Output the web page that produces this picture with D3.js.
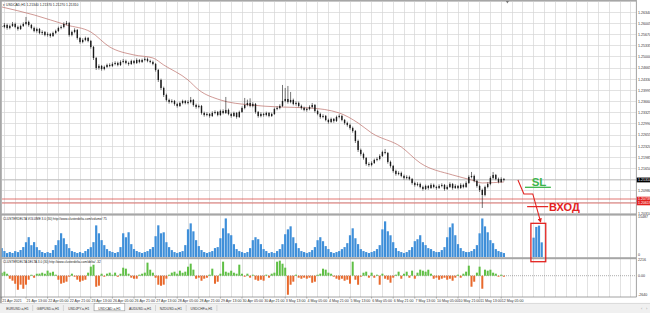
<!DOCTYPE html>
<html><head><meta charset="utf-8">
<script src="https://cdn.jsdelivr.net/npm/d3@7"></script>
<style>html,body{margin:0;padding:0;background:#fff;overflow:hidden}</style>
</head><body><svg id="c" width="650" height="313"></svg>
<script>
// ---------------- DATA ----------------
const symbolTitle = "USDCAD,H1";
const firstOpen = 1.2593;
const closes = [
1.2590,1.2596,1.2587,1.2593,1.2599,1.2590,1.2584,1.2593,1.2599,1.2605,
1.2596,1.2587,1.2578,1.2584,1.2572,1.2575,1.2566,1.2569,1.2563,1.2572,
1.2578,1.2587,1.2590,1.2599,1.2602,1.2566,1.2575,1.2581,1.2557,1.2545,
1.2551,1.2557,1.2548,1.2530,1.2497,1.2467,1.2473,1.2464,1.2470,1.2476,
1.2473,1.2479,1.2482,1.2476,1.2485,1.2488,1.2482,1.2479,1.2488,1.2482,
1.2491,1.2485,1.2491,1.2494,1.2488,1.2485,1.2479,1.2461,1.2431,1.2407,
1.2386,1.2371,1.2365,1.2368,1.2359,1.2353,1.2362,1.2368,1.2362,1.2365,
1.2371,1.2356,1.2350,1.2353,1.2332,1.2326,1.2329,1.2323,1.2332,1.2335,
1.2326,1.2338,1.2332,1.2341,1.2329,1.2323,1.2332,1.2320,1.2335,1.2347,
1.2356,1.2362,1.2353,1.2359,1.2335,1.2323,1.2329,1.2326,1.2332,1.2323,
1.2329,1.2344,1.2347,1.2353,1.2368,1.2374,1.2365,1.2371,1.2359,1.2362,
1.2353,1.2347,1.2341,1.2344,1.2350,1.2356,1.2338,1.2329,1.2320,1.2323,
1.2311,1.2305,1.2314,1.2308,1.2320,1.2323,1.2311,1.2302,1.2296,1.2287,
1.2278,1.2248,1.2221,1.2209,1.2197,1.2179,1.2176,1.2182,1.2191,1.2194,
1.2203,1.2215,1.2212,1.2185,1.2173,1.2158,1.2149,1.2152,1.2143,1.2137,
1.2140,1.2134,1.2122,1.2116,1.2119,1.2110,1.2104,1.2113,1.2107,1.2116,
1.2110,1.2107,1.2113,1.2116,1.2104,1.2110,1.2119,1.2107,1.2113,1.2107,
1.2116,1.2110,1.2122,1.2140,1.2143,1.2128,1.2113,1.2101,1.2086,1.2110,
1.2119,1.2137,1.2146,1.2134,1.2125,1.2134,1.2131];
const highs = [
1.2599,1.2602,1.2600,1.2597,1.2605,1.2603,1.2594,1.2597,1.2604,1.2620,
1.2609,1.2599,1.2591,1.2588,1.2587,1.2580,1.2578,1.2574,1.2572,1.2576,
1.2582,1.2591,1.2595,1.2604,1.2608,1.2605,1.2579,1.2586,1.2584,1.2560,
1.2556,1.2561,1.2560,1.2551,1.2533,1.2500,1.2478,1.2476,1.2474,1.2480,
1.2481,1.2484,1.2487,1.2486,1.2490,1.2494,1.2492,1.2486,1.2492,1.2491,
1.2496,1.2494,1.2495,1.2499,1.2498,1.2492,1.2489,1.2482,1.2464,1.2435,
1.2411,1.2390,1.2375,1.2373,1.2371,1.2363,1.2366,1.2372,1.2371,1.2370,
1.2380,1.2374,1.2360,1.2357,1.2356,1.2336,1.2334,1.2332,1.2337,1.2340,
1.2338,1.2342,1.2343,1.2380,1.2345,1.2333,1.2336,1.2335,1.2339,1.2352,
1.2377,1.2372,1.2376,1.2364,1.2362,1.2338,1.2334,1.2333,1.2336,1.2335,
1.2333,1.2348,1.2352,1.2358,1.2416,1.2407,1.2413,1.2395,1.2375,1.2367,
1.2366,1.2357,1.2351,1.2348,1.2355,1.2362,1.2359,1.2342,1.2333,1.2328,
1.2326,1.2315,1.2318,1.2317,1.2324,1.2328,1.2326,1.2314,1.2306,1.2300,
1.2291,1.2281,1.2252,1.2225,1.2213,1.2200,1.2184,1.2187,1.2195,1.2199,
1.2208,1.2219,1.2224,1.2215,1.2189,1.2176,1.2162,1.2157,1.2156,1.2147,
1.2145,1.2144,1.2137,1.2126,1.2124,1.2123,1.2114,1.2117,1.2116,1.2121,
1.2120,1.2114,1.2118,1.2121,1.2119,1.2115,1.2124,1.2122,1.2118,1.2116,
1.2121,1.2120,1.2127,1.2145,1.2155,1.2147,1.2131,1.2117,1.2105,1.2114,
1.2124,1.2142,1.2155,1.2149,1.2138,1.2139,1.2137];
const lows = [
1.2584,1.2586,1.2582,1.2583,1.2590,1.2586,1.2579,1.2581,1.2590,1.2595,
1.2591,1.2583,1.2574,1.2573,1.2568,1.2566,1.2562,1.2561,1.2558,1.2560,
1.2569,1.2575,1.2583,1.2586,1.2595,1.2561,1.2562,1.2571,1.2552,1.2540,
1.2541,1.2547,1.2544,1.2525,1.2491,1.2461,1.2462,1.2459,1.2460,1.2467,
1.2469,1.2470,1.2475,1.2472,1.2473,1.2481,1.2478,1.2474,1.2476,1.2478,
1.2479,1.2481,1.2482,1.2487,1.2484,1.2481,1.2475,1.2456,1.2425,1.2401,
1.2380,1.2366,1.2360,1.2361,1.2354,1.2348,1.2350,1.2358,1.2358,1.2358,
1.2361,1.2351,1.2345,1.2346,1.2327,1.2321,1.2322,1.2318,1.2320,1.2328,
1.2322,1.2323,1.2328,1.2329,1.2325,1.2318,1.2320,1.2315,1.2317,1.2332,
1.2343,1.2352,1.2349,1.2349,1.2330,1.2318,1.2319,1.2321,1.2322,1.2319,
1.2320,1.2326,1.2340,1.2343,1.2350,1.2364,1.2360,1.2361,1.2355,1.2354,
1.2349,1.2342,1.2337,1.2336,1.2340,1.2346,1.2333,1.2325,1.2315,1.2316,
1.2307,1.2300,1.2302,1.2303,1.2305,1.2316,1.2307,1.2297,1.2291,1.2282,
1.2273,1.2242,1.2215,1.2204,1.2192,1.2174,1.2171,1.2172,1.2179,1.2187,
1.2190,1.2200,1.2208,1.2180,1.2168,1.2153,1.2144,1.2145,1.2139,1.2132,
1.2133,1.2130,1.2117,1.2111,1.2112,1.2106,1.2099,1.2101,1.2102,1.2104,
1.2106,1.2102,1.2104,1.2109,1.2099,1.2101,1.2107,1.2102,1.2104,1.2103,
1.2104,1.2106,1.2107,1.2119,1.2136,1.2124,1.2108,1.2095,1.2047,1.2082,
1.2106,1.2115,1.2133,1.2130,1.2121,1.2122,1.2127];
// moving average (read at sample bars)
const maIndex = [0,12,24,33,40,49,56,60,69,73,81,92,103,114,125,132,137,148,155,167,174,178,186];
const maValue = [1.2650,1.2626,1.2596,1.2575,1.2530,1.2506,1.2497,1.2476,1.2431,1.2401,1.2371,1.2356,1.2350,1.2347,1.2332,1.2302,1.2272,1.2230,1.2182,1.2146,1.2131,1.2122,1.2125];
const volumes = [
3402,2281,1496,1902,1534,2247,1873,2671,3795,5648,
7583,4522,5691,3764,2638,1911,1502,1879,1527,2655,
4553,6417,9082,7166,4927,3388,2262,1894,1518,1885,
1507,2276,3031,3768,5682,12094,9061,6442,4531,3014,
2259,1903,1521,1877,3791,9075,7548,9463,4918,3027,
2284,1869,1512,1896,2271,3019,3802,7952,12117,9068,
9447,5662,3776,2641,1884,1509,1892,2263,4547,10592,
12861,9822,6437,4172,2656,1897,1516,1881,2274,3409,
3786,7173,10968,14752,9058,8331,4903,3026,2265,1884,
1513,1897,3394,6441,7565,6812,4917,3018,2277,1504,
1886,1519,2268,3031,4906,8702,10574,11733,7548,5281,
3397,2262,1891,1506,1879,2652,3788,6425,7571,6044,
4168,3027,1884,1511,1893,2266,3014,3791,5296,8316,
10973,7168,4926,3022,2271,1887,1518,1893,2259,3031,
4537,10569,13624,9841,8307,5664,3408,2273,1886,1502,
1894,2647,3776,6056,6793,8328,5671,4544,3396,3022,
2264,1881,1897,2655,3779,7562,11347,12842,8326,4917,
3404,2268,1886,1893,2273,3028,4533,9062,14738,11716,
9452,6437,5286,3021,2269,1884,1507];
const projectedStart = 197;
const projectedVolumes = [7400,11500,12000,5600];
const deltas = [
405,552,268,-417,-680,-1102,-1925,-1227,-1788,-1229,
-551,131,-279,270,283,408,266,690,414,544,
140,-553,-1091,-964,-818,-133,277,-141,-546,-826,
-681,-552,415,1238,1502,-1511,-1366,271,-138,279,
408,135,417,-142,268,1093,962,276,-270,-414,
-409,139,272,416,1786,819,412,-276,-1237,-1374,
-1229,-405,133,418,545,279,688,406,552,1231,
1648,826,-413,-268,-690,-407,-280,141,962,-1097,
-826,272,1921,549,414,684,409,276,1509,268,
-139,277,-271,136,-548,-687,-551,-682,142,-273,
276,412,1915,2058,1641,1098,-2605,-1235,-819,138,
-274,-416,-268,-409,-277,-962,-824,133,279,957,
826,412,271,-139,-408,-553,-414,-686,-547,-1093,
1922,-551,-1238,-142,409,553,-271,414,-278,136,
-1234,275,-409,-546,-958,-272,139,551,-413,268,
548,-277,689,-411,413,826,682,549,821,276,
-414,-272,-553,-408,-276,-549,-412,-686,-271,138,
-276,272,551,1372,-1508,-823,414,1236,-1782,827,
688,819,413,276,-137,139,-141];
const priceTickLabels = ["1.26340","1.26005","1.25670","1.25335","1.25000","1.24665","1.24330","1.23995","1.23660","1.23325","1.22990","1.22655","1.22320","1.21985","1.21650","1.21315","1.20980","1.20645","1.20310"];
const entryLevels = [1.20739, 1.20619];
const volumeMax = 15487;
const deltaMax = 2216, deltaMin = -2640;
const timeLabels = ["21 Apr 2021","21 Apr 13:00","22 Apr 05:00","22 Apr 21:00","23 Apr 13:00","26 Apr 05:00","26 Apr 21:00","27 Apr 13:00","28 Apr 05:00","28 Apr 21:00","29 Apr 13:00","30 Apr 05:00","30 Apr 21:00","3 May 13:00","4 May 05:00","4 May 21:00","5 May 13:00","6 May 05:00","6 May 21:00","7 May 13:00","10 May 05:00","10 May 21:00","11 May 13:00","12 May 05:00"];
const tabNames = ["EURUSD.a,H1","GBPUSD.a,H1","USDJPY.a,H1","USDCAD.a,H1","AUDUSD.a,H1","NZDUSD.a,H1","USDCHF.a,H1"];
const activeTab = 3;
const volumeTitle = "CLUSTERDELTA VOLUME 3.0 (30) http://www.clusterdelta.com/volume/ 75";
const deltaTitle = "CLUSTERDELTA DELTA 3.0 (30) http://www.clusterdelta.com/delta/ -32";

// ---------------- LAYOUT ----------------
const svg = d3.select('#c');
const FONT = "'Liberation Sans', Arial, sans-serif";
const plotR = 636;
const x = d3.scaleLinear().domain([0, 234]).range([1.7, 633.5]);
const yP = d3.scaleLinear().domain([1.20304, 1.26649]).range([213.5, 2]);
const yV = d3.scaleLinear().domain([0, volumeMax]).range([257, 216.5]);
const yD = d3.scaleLinear().domain([deltaMin, deltaMax]).range([295, 259.5]);

svg.append('rect').attr('width',650).attr('height',313).attr('fill','#fff');

// grid
const grid = svg.append('g').attr('stroke','#d6d6d6').attr('stroke-width',0.7).attr('shape-rendering','crispEdges');
const vgrid = d3.range(1, 234, 4);
grid.selectAll('line.v').data(vgrid).join('line')
  .attr('x1',d=>x(d)).attr('x2',d=>x(d)).attr('y1',2).attr('y2',297);
grid.selectAll('line.h').data(priceTickLabels).join('line')
  .attr('x1',2).attr('x2',plotR).attr('y1',d=>yP(+d)).attr('y2',d=>yP(+d));

// clip for price pane
svg.append('clipPath').attr('id','pp').append('rect').attr('x',2).attr('y',2).attr('width',plotR-2).attr('height',211.5);
const pg = svg.append('g').attr('clip-path','url(#pp)');

// entry levels
pg.selectAll('line.entry').data(entryLevels).join('line')
  .attr('x1',2).attr('x2',plotR).attr('y1',d=>yP(d)).attr('y2',d=>yP(d))
  .attr('stroke','#d9534f').attr('stroke-width',0.8);

// bid line
const lastClose = closes[closes.length-1];
pg.append('line').attr('x1',2).attr('x2',plotR).attr('y1',yP(lastClose)).attr('y2',yP(lastClose))
  .attr('stroke','#a8a8a8').attr('stroke-width',0.6);

// MA
const maPts = maIndex.map((d,i)=>[d, maValue[i]]);
pg.append('path').datum(maPts)
  .attr('d', d3.line().x(d=>x(d[0])).y(d=>yP(d[1])).curve(d3.curveMonotoneX))
  .attr('fill','none').attr('stroke','#bb6f68').attr('stroke-width',0.7);

// candles
const bars = closes.map((c,i)=>({i, o: i ? closes[i-1] : firstOpen, h: highs[i], l: lows[i], c}));
pg.selectAll('line.wick').data(bars).join('line')
  .attr('x1',d=>x(d.i)).attr('x2',d=>x(d.i))
  .attr('y1',d=>yP(d.h)).attr('y2',d=>yP(d.l))
  .attr('stroke','#1a1a1a').attr('stroke-width',0.6);
pg.selectAll('rect.body').data(bars).join('rect')
  .attr('x',d=>x(d.i)-0.7).attr('width',1.4)
  .attr('y',d=>yP(Math.max(d.o,d.c)))
  .attr('height',d=>Math.max(0.6, Math.abs(yP(d.o)-yP(d.c))))
  .attr('fill','#1a1a1a');

// volume bars
const vg = svg.append('g');
vg.selectAll('rect').data(volumes).join('rect')
  .attr('x',(d,i)=>x(i)-1.1).attr('width',2.2)
  .attr('y',d=>yV(d)).attr('height',d=>yV(0)-yV(d))
  .attr('fill','#3f8fd9');
vg.selectAll('rect.p').data(projectedVolumes).join('rect').attr('class','p')
  .attr('x',(d,i)=>x(projectedStart+i)-1.1).attr('width',2.2)
  .attr('y',d=>yV(d)).attr('height',d=>yV(0)-yV(d))
  .attr('fill','#3f8fd9');

// delta
svg.append('line').attr('x1',2).attr('x2',plotR).attr('y1',yD(0)).attr('y2',yD(0))
  .attr('stroke','#777').attr('stroke-width',0.6).attr('stroke-dasharray','1,1');
svg.append('g').selectAll('rect').data(deltas).join('rect')
  .attr('x',(d,i)=>x(i)-1).attr('width',2)
  .attr('y',d=>yD(Math.max(0,d))).attr('height',d=>Math.abs(yD(d)-yD(0)))
  .attr('fill',d=>d>=0?'#5fbf45':'#e8692c');

// frame / separators
const sep = svg.append('g').attr('fill','#a6a6a6');
sep.append('rect').attr('x',0).attr('y',0).attr('width',plotR).attr('height',1.6);
sep.append('rect').attr('x',0).attr('y',0).attr('width',1.8).attr('height',303);
sep.append('rect').attr('x',0).attr('y',213.6).attr('width',plotR).attr('height',2);
sep.append('rect').attr('x',0).attr('y',257.2).attr('width',plotR).attr('height',2);
svg.append('line').attr('x1',0).attr('x2',plotR+0.5).attr('y1',297).attr('y2',297).attr('stroke','#8a8a8a').attr('stroke-width',0.8);
svg.append('line').attr('x1',plotR+0.4).attr('x2',plotR+0.4).attr('y1',0).attr('y2',297).attr('stroke','#8a8a8a').attr('stroke-width',0.8);

// chart shift marker
svg.append('path').attr('d', `M${x(closes.length+0.3)-1.5},1 L${x(closes.length+0.3)+1.5},1 L${x(closes.length+0.3)},3.5 Z`).attr('fill','#777');

// right axis labels
const ax = svg.append('g').attr('font-family',FONT).attr('font-size',3.6).attr('fill','#333');
ax.selectAll('text.p').data(priceTickLabels).join('text')
  .attr('x',638).attr('y',d=>yP(+d)+1.3).text(d=>d);
// bid label
const fmt5 = d3.format('.5f');
svg.append('rect').attr('x',plotR+0.8).attr('y',yP(lastClose)-2.4).attr('width',13.5).attr('height',4.8).attr('fill','#000');
svg.append('text').attr('x',638).attr('y',yP(lastClose)+1.3).attr('font-family',FONT).attr('font-size',3.6).attr('fill','#fff').text(fmt5(lastClose));
// entry labels
svg.append('rect').attr('x',plotR+0.8).attr('y',yP(entryLevels[0])-2.3).attr('width',13.5).attr('height',yP(entryLevels[1])-yP(entryLevels[0])+4.6).attr('fill','#e3221f');
svg.selectAll('text.e').data(entryLevels).join('text').attr('x',638).attr('y',d=>yP(d)+1.3)
  .attr('font-family',FONT).attr('font-size',3.6).attr('fill','#fff').text(d=>fmt5(d));
// volume / delta labels
ax.append('text').attr('x',638).attr('y',yV(volumeMax)+1.3).text(volumeMax);
ax.append('text').attr('x',638).attr('y',yV(0)-1).text('0');
ax.append('text').attr('x',638).attr('y',yD(deltaMax)+1.6).text(deltaMax);
ax.append('text').attr('x',638).attr('y',yD(0)+1.3).text('0.00');
ax.append('text').attr('x',638).attr('y',yD(deltaMin)+0.5).text(deltaMin);

// time axis
const tickIdx = timeLabels.map((d,k)=> k===0 ? 0 : 9 + 8*(k-1));
const ta = svg.append('g').attr('font-family',FONT).attr('font-size',3.6).attr('fill','#333');
ta.selectAll('line').data(tickIdx).join('line').attr('x1',d=>x(d)).attr('x2',d=>x(d)).attr('y1',297).attr('y2',298.6).attr('stroke','#777').attr('stroke-width',0.5);
ta.selectAll('text').data(timeLabels).join('text').attr('x',(d,k)=>x(tickIdx[k])+0.6).attr('y',301.8).text(d=>d);

// titles
const lb = bars[bars.length-1];
svg.append('text').attr('x',3).attr('y',5.6).attr('font-family',FONT).attr('font-size',3.4).attr('fill','#222')
  .text(`\u25BE ${symbolTitle}  ${fmt5(lb.o)} ${fmt5(lb.h)} ${fmt5(lb.l)} ${fmt5(lb.c)}`);
svg.append('text').attr('x',3).attr('y',220).attr('font-family',FONT).attr('font-size',3.1).attr('fill','#222').text(volumeTitle);
svg.append('text').attr('x',3).attr('y',262.8).attr('font-family',FONT).attr('font-size',3.1).attr('fill','#222').text(deltaTitle);

// tab bar
svg.append('rect').attr('x',0).attr('y',303.2).attr('width',650).attr('height',10).attr('fill','#f0f0f0');
svg.append('line').attr('x1',0).attr('x2',650).attr('y1',303.4).attr('y2',303.4).attr('stroke','#c8c8c8').attr('stroke-width',0.6);
const tabW = 30.7, tab0 = 2;
const tb = svg.append('g').attr('font-family',FONT).attr('font-size',3.4).attr('fill','#333');
tabNames.forEach((n,k)=>{
  const tx = tab0 + k*tabW;
  if (k===activeTab) {
    tb.append('rect').attr('x',tx).attr('y',303.4).attr('width',tabW).attr('height',7.4).attr('fill','#fff').attr('stroke','#9a9a9a').attr('stroke-width',0.6);
  } else {
    tb.append('line').attr('x1',tx+tabW).attr('x2',tx+tabW).attr('y1',305).attr('y2',311).attr('stroke','#b8b8b8').attr('stroke-width',0.5);
  }
  tb.append('text').attr('x',tx+tabW/2).attr('y',309.6).attr('text-anchor','middle').text(n);
});
tb.append('text').attr('x',641).attr('y',310).attr('font-size',4).attr('fill','#999').text('\u2039');
tb.append('text').attr('x',646).attr('y',310).attr('font-size',4).attr('fill','#999').text('\u203A');

// ---------------- ANNOTATIONS ----------------
const red = '#e3221f', green = '#3db54a';
const an = svg.append('g');
const pathPts = [[x(191.2), yP(1.2131)], [x(193.4), yP(1.2089)], [x(196.7), yP(1.2089)], [x(199.6), yV(13400)]];
svg.append('defs').append('marker').attr('id','ah').attr('viewBox','0 0 10 10').attr('refX',8).attr('refY',5)
  .attr('markerWidth',4).attr('markerHeight',4).attr('orient','auto')
  .append('path').attr('d','M0,0 L10,5 L0,10 Z').attr('fill',red);
an.append('path').attr('d', d3.line()(pathPts)).attr('fill','none').attr('stroke',red).attr('stroke-width',1.1).attr('marker-end','url(#ah)');
an.append('line').attr('x1',x(193.8)).attr('x2',x(203.4)).attr('y1',yP(1.2109)).attr('y2',yP(1.2109)).attr('stroke',green).attr('stroke-width',1.3);
an.append('text').attr('x',x(196.3)).attr('y',yP(1.2113)).attr('font-family',FONT).attr('font-weight','bold').attr('font-size',11.5).attr('fill',green).text('SL');
an.append('line').attr('x1',x(194.6)).attr('x2',x(202.4)).attr('y1',yP(1.2051)).attr('y2',yP(1.2051)).attr('stroke',red).attr('stroke-width',1.2);
an.append('text').attr('x',x(202.7)).attr('y',yP(1.2038)).attr('font-family',FONT).attr('font-weight','bold').attr('font-size',11).attr('fill',red).text('ВХОД');
an.append('rect').attr('x',x(projectedStart-1)).attr('y',yV(d3.max(projectedVolumes))-2.3)
  .attr('width',x(projectedStart+projectedVolumes.length+0.5)-x(projectedStart-1)).attr('height',yV(0)+4.7-(yV(d3.max(projectedVolumes))-2.3))
  .attr('fill','none').attr('stroke',red).attr('stroke-width',1.3);
</script></body></html>
